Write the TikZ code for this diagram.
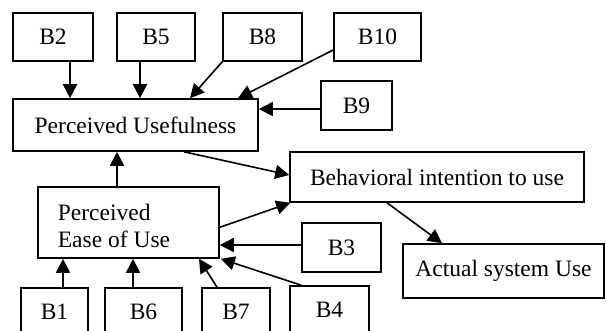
\documentclass[tikz,border=0pt]{standalone}
\usepackage{fontspec}
\setmainfont{Liberation Serif}
\usetikzlibrary{arrows.meta,calc}
\begin{document}
\begin{tikzpicture}[x=1pt,y=-1pt,
  box/.style={draw,line width=1.6pt,rectangle,inner sep=0pt,font=\fontsize{23.5}{26.5}\selectfont},
  lbl/.style={inner sep=0pt,align=left,font=\fontsize{23.5}{26.5}\selectfont},
  arr/.style={line width=1.6pt,-{Triangle[length=14pt,width=14pt]}}]
\useasboundingbox (0,0) rectangle (606,331);
\clip (0,0) rectangle (606,331);
% top boxes
\node[box,minimum width=80,minimum height=48] (b2) at (53,37) {B2};
\node[box,minimum width=78,minimum height=48] (b5) at (156,37) {B5};
\node[box,minimum width=79,minimum height=48] (b8) at (262.5,37) {B8};
\node[box,minimum width=87,minimum height=48] (b10) at (377.5,37) {B10};
\node[box,minimum width=71,minimum height=49] (b9) at (356.5,105.5) {B9};
\node[box,minimum width=245,minimum height=52] (pu) at (135.5,125) {Perceived Usefulness};
\node[box,minimum width=294,minimum height=50] (bi) at (437,177) {Behavioral intention to use};
\node[box,minimum width=181,minimum height=71] (peou) at (128.5,222.5) {};
\node[lbl] (peoutxt) at (114,226) {Perceived\\Ease of Use};
\node[box,minimum width=79,minimum height=49] (b3) at (341.5,247.5) {B3};
\node[box,minimum width=201,minimum height=54] (act) at (503.5,271) {Actual system Use};
% bottom boxes
\node[box,minimum width=67,minimum height=48] (b1) at (54.5,312) {B1};
\node[box,minimum width=77,minimum height=48] (b6) at (143.5,312) {B6};
\node[box,minimum width=68,minimum height=48] (b7) at (236,312) {B7};
\node[box,minimum width=79,minimum height=48] (b4) at (329.5,310) {B4};
% connectors
\draw[arr] ($(b2.south)+(17,0)$) -- ($(pu.north)+(-65.5,0)$);
\draw[arr] ($(b5.south)+(-16,0)$) -- ($(pu.north)+(4.5,0)$);
\draw[arr] (b8.south west) -- ($(pu.north)+(54.5,0)$);
\draw[arr] ($(b10.west)+(0,13)$) -- ($(pu.north)+(102.5,0)$);
\draw[arr] ($(b9.west)+(0,3.5)$) -- ($(pu.east)+(0,-16)$);
\draw[arr] ($(pu.south)+(48.5,0)$) -- ($(bi.west)+(0,-2)$);
\draw[arr] ($(peou.north)+(-11.5,0)$) -- ($(pu.south)+(-18.5,0)$);
\draw[arr] ($(peou.east)+(-2,5.5)$) -- ($(bi.south west)+(1,0)$);
\draw[arr] ($(b3.west)+(0,-2.5)$) -- ($(peou.east)+(0,22.5)$);
\draw[arr] ($(b4.north west)+(12,0)$) -- ($(peou.south east)+(1,0)$);
\draw[arr] ($(b7.north)+(-19,0)$) -- ($(peou.south)+(70.5,0)$);
\draw[arr] ($(b6.north)+(-10.5,0)$) -- ($(peou.south)+(4.5,0)$);
\draw[arr] ($(b1.north)+(8.5,0)$) -- ($(peou.south)+(-65.5,0)$);
\draw[arr] ($(bi.south)+(-50,0)$) -- ($(act.north)+(-61.5,0)$);
\end{tikzpicture}
\end{document}
